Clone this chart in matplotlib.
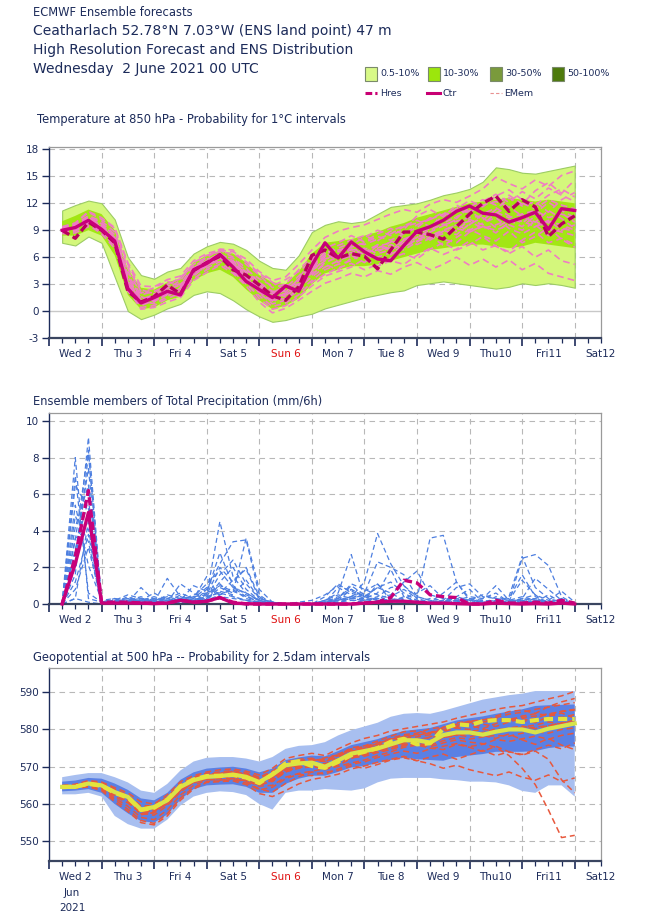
import numpy as np
import matplotlib
matplotlib.use("Agg")
import matplotlib.pyplot as plt
from matplotlib.patches import Rectangle
from matplotlib.lines import Line2D

plt.rcParams['font.family'] = ['DejaVu Sans']

# ---------------- data ----------------
hours = [6 + 6 * i for i in range(40)]  # forecast hours from Wed 2 00h
day_labels = ['Wed 2', 'Thu 3', 'Fri 4', 'Sat 5', 'Sun 6', 'Mon 7', 'Tue 8',
              'Wed 9', 'Thu10', 'Fri11', 'Sat12']
day_label_hours = [12 + 24 * i for i in range(11)]
day_grid_hours = [24 * i for i in range(1, 11)]

# Temperature 850 hPa
t_ctr = [9.0, 9.3, 10.1, 9.1, 7.8, 2.5, 0.9, 1.5, 2.2, 1.8, 4.6, 5.3, 6.3, 4.9, 3.3, 2.4, 1.5, 2.8, 2.2, 5.1,
         7.6, 5.9, 7.7, 6.6, 5.8, 5.6, 7.3, 8.9, 9.4, 10.1, 11.1, 11.7, 10.9, 10.7, 9.9, 10.4, 11.0, 9.1, 11.4, 11.2]
t_hres = [9.0, 8.1, 9.9, 9.0, 7.6, 2.2, 1.0, 1.6, 2.9, 1.9, 4.5, 5.4, 6.1, 4.6, 4.0, 2.9, 1.7, 1.2, 2.7, 6.2,
          6.8, 5.9, 6.4, 6.1, 4.7, 6.8, 8.8, 8.8, 8.5, 8.0, 9.4, 10.8, 12.0, 12.8, 11.1, 12.4, 11.6, 8.3, 9.7, 10.6]
t_out_hi = [11.2, 11.8, 12.3, 12.0, 10.2, 6.0, 4.0, 3.6, 4.4, 4.8, 6.4, 7.2, 7.7, 7.5, 6.8, 5.6, 4.8, 4.6, 6.2, 8.8,
            9.6, 10.0, 9.8, 10.0, 10.8, 11.6, 11.8, 12.0, 12.4, 12.9, 13.2, 13.6, 14.4, 16.0, 15.8, 15.4, 15.3, 15.6, 15.9, 16.2]
t_out_lo = [7.6, 7.3, 8.3, 7.6, 3.8, 0.0, -0.9, -0.4, 0.3, 0.8, 1.8, 2.2, 2.0, 1.2, 0.2, -0.6, -1.2, -1.0, -0.6, -0.3,
            0.3, 0.7, 1.1, 1.5, 1.8, 2.1, 2.3, 2.9, 3.1, 3.3, 3.1, 2.9, 2.7, 2.5, 2.7, 3.1, 2.9, 3.1, 2.9, 2.6]
t_mid_hi = [10.0, 10.6, 11.3, 10.8, 9.0, 4.6, 2.6, 2.4, 3.2, 3.6, 5.4, 6.2, 6.7, 6.4, 5.4, 4.0, 3.2, 3.0, 4.4, 6.4,
            7.6, 7.8, 8.0, 8.4, 8.8, 9.4, 9.8, 10.4, 10.8, 11.2, 11.6, 12.0, 12.2, 12.4, 12.6, 12.4, 12.2, 12.4, 12.2, 12.0]
t_mid_lo = [8.4, 8.4, 9.0, 8.4, 6.2, 1.8, 0.2, 0.4, 1.2, 1.6, 3.4, 4.2, 4.6, 3.8, 2.4, 1.2, 0.2, 0.6, 1.4, 3.0,
            4.2, 4.6, 5.0, 5.0, 5.2, 5.6, 6.0, 6.4, 6.8, 7.0, 7.2, 7.4, 7.4, 7.2, 7.0, 7.2, 7.6, 7.4, 7.2, 7.0]
t_members = [
    [9.2, 9.6, 10.5, 9.8, 8.5, 4.0, 1.8, 2.2, 2.8, 3.0, 5.0, 5.8, 6.0, 5.5, 4.6, 3.6, 2.8, 3.5, 4.4, 5.6, 6.8, 6.2, 6.5, 7.0, 6.4, 6.8, 7.6, 8.2, 8.8, 9.5, 10.2, 9.6, 10.8, 11.5, 10.6, 9.8, 10.9, 12.1, 11.2, 10.4],
    [8.8, 9.0, 9.6, 8.6, 7.0, 3.2, 1.2, 0.8, 1.6, 2.6, 4.0, 5.0, 5.7, 5.2, 3.8, 2.0, 0.8, 1.2, 2.6, 3.8, 4.9, 5.6, 6.2, 5.4, 6.6, 7.4, 6.8, 7.7, 8.6, 8.0, 7.6, 8.8, 9.5, 8.7, 9.9, 10.8, 9.6, 8.4, 9.2, 8.9],
    [9.4, 9.8, 11.0, 10.2, 9.2, 5.2, 2.4, 1.9, 2.5, 3.4, 5.4, 6.2, 6.6, 6.4, 5.5, 4.2, 3.2, 2.3, 3.4, 4.8, 6.1, 7.3, 7.9, 8.4, 7.8, 8.9, 9.5, 10.1, 9.4, 10.6, 11.4, 12.3, 11.6, 12.8, 13.5, 12.4, 11.8, 12.9, 13.6, 12.7],
    [8.6, 8.7, 9.4, 8.9, 7.4, 2.2, 0.6, 1.2, 1.9, 2.4, 4.3, 4.8, 5.5, 4.4, 3.0, 1.7, 0.5, 0.9, 1.8, 3.2, 4.1, 4.8, 5.3, 4.6, 5.2, 5.9, 6.4, 5.8, 6.9, 7.6, 6.8, 7.4, 8.3, 7.2, 6.6, 7.9, 8.8, 7.6, 8.1, 7.4],
    [9.0, 9.4, 10.3, 9.4, 8.0, 3.5, 1.4, 1.6, 2.8, 3.8, 4.9, 5.5, 6.1, 5.9, 4.8, 3.1, 2.1, 1.6, 2.9, 4.5, 5.6, 6.8, 7.1, 7.6, 8.3, 7.9, 8.6, 9.3, 10.4, 9.8, 10.5, 11.2, 10.1, 11.3, 12.6, 11.7, 12.2, 11.0, 12.4, 13.2],
    [9.1, 9.2, 10.0, 9.3, 7.6, 2.8, 1.0, 1.0, 2.3, 2.1, 3.9, 5.1, 6.5, 5.0, 3.5, 2.6, 1.9, 2.6, 3.9, 5.3, 6.4, 5.8, 7.2, 6.1, 7.3, 6.7, 7.9, 8.5, 7.9, 8.9, 9.6, 9.0, 9.8, 10.4, 9.2, 8.6, 9.4, 10.1, 9.0, 9.6],
    [8.9, 9.5, 10.2, 9.6, 8.2, 4.4, 2.0, 2.6, 3.3, 2.9, 4.7, 6.0, 6.8, 6.0, 4.2, 3.0, 1.3, 1.9, 3.1, 4.2, 5.2, 4.6, 5.9, 6.8, 5.6, 6.3, 7.1, 8.0, 8.4, 7.3, 8.2, 9.1, 8.4, 7.8, 8.9, 7.6, 8.3, 9.3, 8.0, 7.1],
    [9.3, 9.1, 9.9, 9.2, 7.9, 3.0, 1.1, 1.4, 2.0, 1.6, 4.2, 5.7, 6.2, 5.3, 4.1, 2.2, 1.1, 2.1, 3.6, 5.8, 7.0, 7.6, 8.4, 7.7, 8.6, 9.2, 8.5, 9.6, 10.2, 11.0, 10.3, 11.6, 12.4, 11.8, 12.9, 11.9, 13.4, 14.3, 13.1, 14.6],
    [8.7, 8.9, 9.8, 8.8, 7.2, 2.6, 0.4, 0.6, 1.4, 2.0, 3.6, 4.6, 5.2, 4.6, 3.2, 1.4, 0.2, 0.6, 1.6, 2.8, 3.9, 4.4, 4.9, 5.8, 5.0, 5.6, 5.2, 6.2, 7.0, 6.3, 6.9, 7.8, 6.8, 7.3, 6.4, 7.2, 6.0, 6.8, 5.6, 5.2],
    [9.2, 9.7, 10.6, 10.0, 8.8, 4.8, 2.2, 2.0, 3.0, 3.6, 5.2, 6.0, 6.9, 6.8, 5.2, 4.0, 2.6, 3.0, 4.6, 6.0, 7.2, 6.6, 7.4, 8.2, 9.0, 8.4, 9.1, 10.6, 11.3, 10.5, 11.8, 11.0, 12.2, 13.0, 12.1, 13.3, 12.5, 13.7, 12.9, 12.2],
    [8.9, 9.3, 10.0, 9.5, 7.7, 3.0, 0.8, 1.7, 2.4, 2.3, 4.5, 5.2, 5.8, 5.6, 3.9, 2.8, 2.0, 2.9, 3.0, 4.0, 5.4, 6.0, 6.9, 6.3, 7.0, 7.7, 8.3, 7.4, 8.1, 9.0, 8.5, 9.7, 10.4, 9.3, 10.1, 9.4, 10.6, 9.8, 10.9, 9.9],
    [9.0, 9.1, 10.4, 9.7, 8.4, 3.8, 1.6, 1.1, 1.8, 2.7, 4.1, 5.6, 6.4, 5.2, 3.7, 2.5, 1.2, 1.4, 2.2, 3.4, 4.6, 5.2, 5.6, 6.5, 7.4, 6.9, 7.4, 8.2, 9.0, 9.7, 8.9, 10.2, 9.6, 10.9, 11.6, 10.6, 9.9, 11.2, 10.3, 9.2],
    [8.8, 9.0, 9.7, 9.0, 7.3, 2.4, 0.2, 0.4, 1.0, 1.5, 3.4, 4.3, 5.1, 4.2, 2.8, 1.0, -0.2, 0.3, 1.2, 2.2, 3.1, 3.6, 4.2, 3.8, 4.5, 4.1, 4.9, 5.4, 4.6, 5.2, 6.0, 5.1, 5.8, 4.9, 5.7, 4.6, 5.3, 4.2, 3.8, 3.4],
    [9.3, 9.8, 11.1, 10.4, 9.3, 5.4, 2.8, 2.7, 3.5, 3.9, 5.6, 6.4, 6.8, 6.6, 5.8, 4.4, 3.4, 3.8, 5.2, 6.8, 8.2, 8.9, 9.3, 9.6, 10.2, 10.8, 11.3, 11.0, 11.9, 12.4, 12.1, 12.8, 13.6, 14.9, 14.2, 13.6, 14.6, 13.9, 15.1, 15.6],
    [9.0, 9.2, 10.2, 9.2, 7.9, 2.9, 1.0, 1.3, 2.1, 2.0, 4.4, 5.2, 6.1, 5.0, 3.6, 2.3, 1.4, 2.0, 2.8, 4.6, 6.0, 6.4, 6.8, 6.9, 7.2, 7.6, 8.0, 8.6, 9.2, 9.6, 10.0, 10.4, 10.6, 11.0, 10.4, 10.8, 11.2, 10.4, 10.8, 10.2],
    [9.1, 9.4, 10.0, 9.0, 7.5, 2.7, 0.8, 1.1, 1.9, 2.4, 4.8, 5.6, 6.4, 5.6, 4.0, 2.7, 1.6, 2.4, 3.3, 4.4, 5.8, 6.2, 6.0, 6.6, 6.8, 7.0, 7.8, 8.8, 8.4, 9.0, 9.6, 10.0, 9.2, 9.6, 10.2, 10.0, 9.4, 10.0, 9.6, 9.0],
    [8.9, 9.2, 9.8, 9.4, 8.1, 3.3, 1.3, 1.8, 2.6, 2.2, 4.6, 5.4, 6.0, 5.2, 4.4, 3.2, 2.2, 2.2, 3.6, 5.0, 6.2, 7.0, 7.6, 7.4, 8.0, 8.6, 9.4, 9.8, 10.2, 10.8, 11.2, 11.0, 11.8, 12.2, 11.6, 12.0, 11.4, 12.4, 11.8, 11.4],
    [9.2, 9.5, 10.4, 9.5, 8.0, 3.6, 1.5, 1.3, 2.4, 2.9, 4.4, 5.0, 5.9, 5.4, 3.4, 2.1, 1.0, 1.8, 2.5, 4.9, 6.6, 5.4, 6.4, 6.2, 6.0, 6.5, 7.2, 7.8, 8.2, 8.6, 9.2, 8.8, 9.4, 9.0, 9.6, 9.0, 10.0, 9.2, 8.8, 8.4],
]

# Total precipitation (mm/6h)
p_ctr = [0, 2.2, 5.0, 0.05, 0.05, 0.05, 0.05, 0.02, 0.05, 0.2, 0.1, 0.15, 0.35, 0.05, 0.02, 0.0, 0.0, 0.0, 0.0, 0.0,
         0.0, 0.0, 0.0, 0.05, 0.1, 0.15, 0.15, 0.1, 0.05, 0.05, 0.02, 0.0, 0.0, 0.05, 0.02, 0.0, 0.02, 0.0, 0.05, 0.0]
p_hres = [0, 2.6, 6.2, 0.1, 0.1, 0.1, 0.05, 0.05, 0.05, 0.2, 0.1, 0.15, 0.35, 0.1, 0.0, 0.0, 0.0, 0.0, 0.0, 0.0,
          0.0, 0.0, 0.0, 0.05, 0.1, 0.35, 1.3, 1.15, 0.5, 0.4, 0.35, 0.0, 0.0, 0.2, 0.05, 0.05, 0.1, 0.05, 0.2, 0.05]
p_members = [
    [0, 3.5, 8.4, 0.1, 0.1, 0.2, 0.3, 0.1, 0, 0.1, 0.2, 0.3, 1.2, 2.0, 0.8, 0.2, 0, 0, 0, 0, 0.1, 0.3, 0.8, 0.4, 0.2, 0.1, 0, 0, 0, 0.1, 0.2, 0, 0, 0, 0.1, 0.3, 0.2, 0.1, 0, 0],
    [0, 8.0, 0.3, 0.1, 0.2, 0.5, 0.3, 0.1, 1.4, 0.4, 0.2, 0.5, 4.5, 1.5, 0.6, 0.2, 0, 0, 0, 0, 0.2, 0.6, 2.7, 0.3, 0.1, 0, 0, 0, 0, 0, 0.1, 0.2, 0.5, 0.3, 0, 0, 0.1, 0, 0, 0],
    [0, 2.0, 9.1, 0.1, 0.1, 0, 0.2, 0.6, 0.2, 0.3, 0.1, 0.8, 2.2, 3.4, 3.5, 0.5, 0, 0, 0, 0, 0.1, 0.2, 0.4, 1.2, 3.85, 2.2, 1.0, 0.3, 0.1, 0, 0, 0, 0, 0.2, 0, 0, 0, 0, 0, 0],
    [0, 4.2, 6.5, 0.1, 0, 0.1, 0.9, 0.2, 0.1, 1.1, 0.6, 0.2, 0.9, 0.6, 3.6, 0.8, 0.1, 0, 0, 0, 0, 0.1, 0.3, 0.5, 0.2, 0.4, 0.8, 0.3, 3.6, 3.75, 1.2, 0.2, 0.1, 0, 0.1, 0.2, 0.3, 0.1, 0, 0],
    [0, 1.2, 3.8, 0.05, 0.1, 0.3, 0.1, 0, 0.3, 0.2, 0.4, 1.1, 1.8, 0.9, 0.4, 0.1, 0, 0, 0, 0, 0.4, 1.1, 0.6, 0.3, 0.6, 1.9, 0.4, 0.1, 0, 0, 0.2, 0.4, 0.3, 0.6, 0.1, 2.5, 2.7, 2.1, 0.4, 0],
    [0, 6.5, 5.2, 0.1, 0.3, 0.1, 0.1, 0.3, 0.1, 0.2, 1.0, 0.7, 0.6, 1.3, 1.9, 0.3, 0.1, 0, 0, 0, 0, 0.2, 0.4, 0.7, 1.1, 0.2, 0.1, 0, 0.1, 0.6, 1.2, 0.3, 0.1, 0, 0, 0.3, 1.4, 0.8, 0.2, 0],
    [0, 0.3, 4.5, 0.1, 0.1, 0.4, 0.1, 0.1, 0.1, 0.5, 0.1, 0.6, 1.0, 0.7, 0.4, 0.2, 0, 0, 0, 0, 0.1, 0.9, 0.5, 0.2, 0.4, 0.9, 1.0, 0.4, 0.2, 0.1, 0, 0.1, 0.3, 1.0, 0.2, 0.1, 0, 0.2, 0.7, 0.1],
    [0, 5.4, 2.1, 0.2, 0.3, 0.2, 0.4, 0.1, 0.5, 0.3, 0.2, 0.4, 1.6, 2.4, 1.1, 0.3, 0.1, 0, 0, 0, 0.2, 0.5, 0.3, 0.6, 2.3, 2.0, 1.6, 0.4, 0.2, 0.1, 0.4, 0.2, 0, 0.1, 0, 0.1, 0.3, 0, 0, 0],
    [0, 2.8, 7.4, 0, 0.1, 0.2, 0.2, 0.4, 0.2, 0.1, 0.3, 0.9, 0.5, 0.8, 0.3, 0.1, 0, 0, 0, 0, 0, 0.3, 1.1, 0.8, 0.5, 0.3, 0.1, 0, 0, 0.2, 0.1, 0, 0, 0.4, 0.2, 1.3, 0.5, 0.2, 0, 0],
    [0, 7.0, 0.6, 0.1, 0.2, 0.1, 0.3, 0.1, 0.1, 0.2, 0.5, 0.6, 2.8, 1.0, 0.5, 0.2, 0, 0, 0.1, 0.2, 0.5, 1.0, 0.7, 0.4, 0.9, 1.2, 0.6, 0.2, 0, 0, 0.1, 0.3, 0.2, 0.1, 0.4, 2.6, 0.9, 0.3, 0.1, 0],
    [0, 0.8, 3.1, 0.1, 0.1, 0.1, 0.2, 0.2, 0.3, 0.6, 0.3, 1.5, 0.4, 0.3, 0.2, 0.1, 0, 0, 0, 0, 0.1, 0.4, 0.2, 0.2, 1.1, 0.3, 0.2, 0.1, 0.3, 0.2, 0.9, 1.1, 0.4, 0.3, 0.2, 0.2, 0.1, 0.5, 0.1, 0],
    [0, 3.0, 5.7, 0.1, 0, 0.1, 0.1, 0.3, 0.2, 0.1, 0.1, 0.3, 0.7, 0.5, 1.3, 0.3, 0.1, 0, 0, 0, 0, 0.1, 0.3, 0.2, 0.3, 0.5, 1.2, 1.8, 0.5, 0.3, 0.2, 0, 0, 0, 0.2, 0.4, 0.2, 0.1, 0, 0],
    [0, 4.8, 3.4, 0, 0.2, 0.3, 0.2, 0.2, 0.4, 0.2, 0.3, 0.2, 1.1, 0.4, 0.2, 0, 0, 0, 0, 0, 0.2, 0.3, 1.0, 0.5, 0.3, 0.2, 0.3, 0.6, 1.0, 0.3, 0.2, 0, 0, 0, 0, 0.3, 0.5, 0, 0, 0],
    [0, 1.6, 8.2, 0.1, 0.1, 0, 0.3, 0.1, 0, 0.3, 0.4, 0.5, 2.0, 1.2, 2.0, 0.4, 0, 0, 0, 0, 0.1, 0.2, 0.8, 0.4, 0.9, 0.6, 0.2, 0, 0.1, 0.2, 0.4, 0.8, 0.1, 0.2, 0.3, 1.6, 0.4, 0.1, 0.2, 0],
    [0, 0.3, 0.1, 0, 0.1, 0.1, 0, 0.1, 0.2, 0.1, 0.2, 0.4, 0.6, 0.4, 0.2, 0.1, 0, 0, 0, 0, 0, 0.1, 0.2, 0.1, 0.3, 0.2, 0.1, 0, 0, 0, 0, 0, 0.2, 0.1, 0, 0, 0.1, 0, 0, 0],
    [0, 3.6, 4.1, 0.1, 0.2, 0.1, 0.1, 0.1, 0.2, 0.2, 0.1, 0.2, 0.5, 0.9, 0.6, 0.2, 0, 0, 0, 0, 0.1, 0.2, 0.3, 0.3, 0.2, 0.1, 0.4, 0.2, 0.1, 0.1, 0.3, 0.2, 0.1, 0, 0, 0.1, 0.2, 0.1, 0.3, 0],
]

# Geopotential 500 hPa (dam)
z_ctr = [564.6, 564.6, 565.5, 565.0, 563.2, 561.9, 558.5, 559.2, 561.0, 564.6, 566.4, 567.3, 567.5, 567.9, 567.3, 565.9,
         567.9, 570.4, 570.9, 571.1, 570.0, 571.7, 573.5, 574.2, 574.9, 576.0, 577.1, 577.1, 576.5, 578.5, 579.2, 579.2,
         578.6, 579.4, 580.0, 580.0, 579.2, 580.2, 580.9, 581.6]
z_hres = [564.5, 564.7, 565.4, 564.9, 563.0, 561.7, 558.4, 559.0, 561.2, 564.8, 566.6, 567.5, 567.6, 567.8, 567.1, 565.6,
          568.0, 570.9, 571.5, 570.2, 569.7, 571.3, 573.1, 574.0, 575.0, 576.7, 577.5, 576.0, 576.3, 580.2, 581.4, 581.1,
          582.2, 582.5, 582.5, 582.0, 582.5, 582.8, 582.8, 582.8]
z_out_hi = [567.2, 567.8, 568.3, 568.3, 567.2, 565.8, 563.6, 563.0, 565.4, 569.0, 571.4, 572.4, 572.6, 572.6, 572.2, 571.4,
            572.6, 574.8, 575.6, 575.8, 576.6, 578.4, 579.8, 580.8, 581.8, 583.4, 584.2, 584.4, 584.2, 585.0, 586.0, 587.0,
            588.0, 588.6, 589.2, 589.6, 590.3, 590.3, 590.3, 590.3]
z_out_lo = [562.6, 562.6, 563.0, 562.0, 556.8, 554.6, 553.4, 553.4, 555.8, 559.6, 562.0, 563.0, 563.4, 563.2, 562.4, 560.0,
            558.5, 563.0, 563.6, 563.6, 564.0, 563.8, 563.6, 564.2, 565.8, 566.8, 567.0, 567.0, 567.0, 566.6, 566.4, 566.0,
            566.0, 565.8, 565.0, 563.5, 563.0, 565.0, 565.0, 562.0]
z_in_hi = [566.0, 566.3, 567.0, 566.8, 565.5, 563.8, 561.5, 561.0, 563.0, 566.5, 568.5, 569.5, 569.8, 570.0, 569.5, 568.5,
           569.5, 571.8, 572.5, 573.0, 572.8, 574.2, 575.8, 576.6, 577.4, 578.6, 579.6, 580.0, 580.4, 581.4, 582.4, 583.0,
           583.5, 584.2, 584.8, 585.4, 586.3, 586.5, 586.6, 586.7]
z_in_lo = [563.4, 563.6, 564.0, 563.0, 560.0, 557.5, 555.4, 555.0, 557.2, 561.2, 564.0, 565.0, 565.2, 565.3, 564.6, 563.0,
           563.0, 565.4, 566.8, 567.6, 567.6, 568.6, 569.8, 570.2, 571.0, 571.8, 572.4, 572.0, 571.8, 571.6, 572.6, 573.0,
           573.4, 574.0, 574.0, 574.0, 574.2, 575.0, 575.4, 575.4]
z_members = [
    [564.3, 564.9, 565.8, 564.6, 562.0, 560.3, 557.6, 557.0, 559.6, 563.2, 565.8, 567.0, 567.8, 568.2, 567.6, 566.2, 567.0, 569.1, 570.6, 571.5, 572.4, 573.2, 574.1, 575.0, 576.2, 577.4, 578.1, 578.4, 579.2, 580.3, 581.0, 581.8, 582.5, 583.2, 584.1, 584.6, 585.4, 586.0, 586.6, 587.2],
    [564.8, 564.5, 565.2, 564.2, 561.6, 559.4, 556.4, 555.8, 558.4, 562.4, 565.0, 566.5, 566.8, 566.9, 566.0, 564.0, 563.2, 565.5, 567.3, 568.6, 568.0, 569.4, 570.7, 571.3, 572.5, 573.4, 574.2, 573.6, 574.8, 575.5, 576.2, 575.4, 576.0, 577.3, 576.8, 577.5, 578.2, 577.4, 578.4, 579.0],
    [565.0, 565.2, 566.0, 565.6, 564.0, 562.4, 559.5, 559.6, 561.8, 565.5, 567.2, 568.3, 568.6, 569.0, 568.4, 567.2, 568.8, 571.3, 572.0, 572.3, 571.3, 573.0, 575.1, 575.6, 576.9, 578.2, 579.4, 579.6, 578.9, 580.6, 581.8, 582.2, 582.0, 583.6, 584.8, 585.2, 584.3, 586.1, 587.4, 588.3],
    [564.4, 564.6, 565.1, 564.8, 563.4, 561.0, 557.1, 557.8, 560.2, 563.8, 566.0, 566.6, 566.4, 566.8, 566.2, 564.8, 565.0, 567.2, 568.2, 568.8, 569.5, 570.1, 571.0, 571.8, 573.0, 574.0, 575.2, 575.8, 575.0, 574.6, 576.0, 575.2, 574.1, 575.5, 574.0, 573.1, 574.2, 572.0, 566.5, 563.0],
    [564.6, 565.0, 565.9, 565.2, 562.8, 561.4, 558.8, 558.4, 560.8, 564.2, 566.6, 567.8, 568.4, 568.0, 567.0, 565.4, 566.8, 569.8, 571.2, 571.0, 570.8, 572.2, 573.0, 574.5, 575.5, 576.3, 577.8, 576.9, 578.0, 579.4, 580.4, 580.0, 581.4, 580.8, 582.0, 583.0, 581.8, 583.5, 584.4, 583.0],
    [564.2, 564.3, 564.8, 563.9, 561.2, 558.6, 555.6, 554.8, 557.4, 561.6, 564.4, 566.0, 566.2, 566.6, 565.6, 563.8, 564.5, 566.8, 568.0, 567.6, 568.6, 569.0, 570.2, 569.6, 570.6, 571.8, 572.4, 571.6, 572.6, 573.4, 572.0, 573.2, 574.4, 573.0, 574.0, 573.3, 574.6, 575.8, 574.8, 576.4],
    [564.9, 565.3, 566.3, 565.9, 564.4, 563.0, 560.6, 560.0, 562.5, 566.0, 567.6, 568.6, 569.2, 569.4, 568.8, 567.8, 569.6, 572.2, 573.0, 573.6, 573.0, 574.8, 576.4, 577.6, 578.4, 579.6, 580.2, 580.8, 581.4, 582.0, 583.0, 583.8, 584.6, 585.4, 586.0, 586.4, 587.3, 588.2, 589.0, 590.2],
    [564.5, 564.7, 565.4, 564.9, 562.9, 561.7, 558.2, 558.9, 560.6, 564.8, 566.7, 567.6, 567.9, 568.5, 567.8, 566.6, 566.0, 568.6, 570.2, 570.4, 569.2, 570.4, 572.2, 573.6, 574.2, 575.4, 576.4, 577.2, 576.2, 577.8, 578.4, 579.6, 578.4, 577.6, 578.8, 577.2, 576.0, 577.6, 575.8, 574.6],
    [564.7, 564.8, 565.6, 565.1, 563.6, 562.2, 559.2, 559.6, 561.6, 565.2, 566.9, 567.9, 568.0, 568.6, 568.1, 567.0, 568.4, 570.8, 571.6, 572.1, 571.9, 573.4, 574.8, 575.4, 576.4, 577.6, 578.6, 579.0, 580.2, 580.6, 581.4, 582.2, 582.6, 583.0, 582.4, 583.6, 584.2, 583.8, 584.9, 585.4],
    [564.4, 564.4, 565.0, 564.4, 562.4, 560.8, 557.9, 558.2, 560.0, 563.6, 565.6, 566.9, 567.1, 567.4, 566.4, 565.0, 566.2, 568.8, 569.8, 570.2, 569.4, 570.9, 572.4, 572.8, 573.8, 574.6, 575.8, 576.0, 575.4, 576.4, 577.2, 576.6, 576.2, 575.2, 573.0, 569.6, 565.2, 558.4, 551.0, 551.6],
    [564.6, 564.9, 565.7, 565.4, 563.8, 561.6, 558.0, 558.6, 561.2, 564.4, 566.2, 567.4, 567.2, 567.6, 566.9, 565.8, 567.4, 569.4, 570.0, 570.6, 570.4, 571.2, 572.8, 573.2, 574.6, 575.2, 576.0, 576.4, 577.2, 578.0, 578.6, 578.0, 579.0, 580.2, 579.8, 580.6, 581.2, 582.0, 581.4, 582.6],
    [564.8, 565.1, 566.1, 565.3, 563.0, 561.2, 557.4, 557.6, 560.4, 564.0, 566.4, 567.6, 568.2, 568.8, 568.0, 566.4, 567.6, 570.0, 571.0, 571.8, 571.4, 572.6, 574.4, 574.8, 575.8, 577.0, 577.6, 578.0, 578.6, 579.6, 580.6, 581.0, 580.2, 581.6, 582.8, 582.0, 583.0, 584.2, 583.2, 584.0],
    [564.3, 564.2, 564.6, 563.6, 560.6, 558.0, 555.0, 554.4, 556.8, 561.0, 564.0, 565.8, 566.0, 566.2, 565.2, 562.8, 562.0, 563.6, 565.4, 566.6, 567.2, 568.0, 569.4, 570.2, 571.2, 572.0, 572.8, 571.6, 570.8, 569.6, 570.4, 569.2, 568.4, 567.6, 568.6, 567.2, 566.4, 567.8, 566.0, 567.0],
    [564.7, 564.6, 565.3, 564.7, 563.1, 561.8, 558.6, 559.0, 561.4, 564.6, 566.3, 567.0, 567.6, 567.8, 567.1, 566.0, 567.2, 569.6, 570.6, 570.8, 570.2, 571.6, 573.2, 573.8, 575.0, 575.8, 576.8, 577.4, 577.8, 578.4, 578.8, 579.4, 580.0, 579.6, 580.4, 580.9, 580.2, 581.0, 581.8, 582.0],
    [564.5, 564.8, 565.6, 565.0, 563.0, 561.2, 558.0, 558.4, 560.8, 564.4, 566.2, 567.2, 567.4, 567.7, 567.0, 565.5, 566.6, 569.2, 570.4, 570.6, 570.2, 571.4, 572.9, 573.6, 574.4, 575.4, 576.4, 576.6, 577.0, 577.9, 578.6, 578.8, 579.2, 579.6, 579.9, 580.2, 580.6, 581.0, 581.4, 581.8],
    [564.6, 564.7, 565.3, 564.6, 562.6, 560.6, 557.4, 558.0, 560.4, 564.0, 566.0, 567.1, 567.3, 567.5, 566.8, 565.2, 566.4, 568.6, 569.6, 570.0, 569.6, 570.8, 572.4, 573.2, 574.0, 574.8, 575.6, 576.2, 575.8, 577.0, 577.8, 577.4, 578.0, 578.4, 578.2, 579.0, 579.4, 579.0, 580.0, 580.4],
    [564.8, 565.0, 565.8, 565.4, 563.6, 562.0, 559.0, 559.4, 561.8, 565.0, 566.8, 567.8, 568.2, 568.4, 567.8, 566.8, 568.2, 570.6, 571.4, 571.8, 571.6, 573.0, 574.6, 575.2, 576.0, 577.2, 578.2, 578.6, 579.0, 580.0, 580.8, 581.4, 582.0, 582.4, 582.8, 583.2, 583.6, 584.2, 584.8, 585.2],
]

# ---------------- styling ----------------
NAVY = '#1c2b5a'
GRID = '#b8b8b8'
W, H = 650, 916

fig = plt.figure(figsize=(6.5, 9.16), dpi=100)


def fx(px):
    return px / W


def fy(py):
    return 1 - py / H


def make_axes(top, bottom):
    return fig.add_axes([fx(49), fy(bottom), fx(601 - 49), (bottom - top) / H])


def style_axes(ax, yticks, ylim, label_y_px, zero_line=None):
    ax.set_xlim(0, 252)
    ax.set_ylim(*ylim)
    ax.set_yticks(yticks)
    ax.set_yticklabels([str(v) for v in yticks])
    ax.tick_params(axis='y', direction='out', length=5, width=1, color=NAVY,
                   labelsize=7.5, labelcolor=NAVY, pad=2)
    ax.set_xticks([24 * i for i in range(0, 11)])
    ax.set_xticks([6 * i for i in range(0, 43)], minor=True)
    ax.set_xticklabels([])
    ax.tick_params(axis='x', which='major', direction='out', length=6, width=1.2, color=NAVY)
    ax.tick_params(axis='x', which='minor', direction='out', length=3.5, width=0.9, color=NAVY)
    for y in yticks:
        if y == ylim[0]:
            continue
        if zero_line is not None and y == zero_line:
            ax.axhline(y, color='#c8c8c8', lw=1.0, zorder=0.5)
        else:
            ax.axhline(y, color=GRID, lw=0.8, ls=(0, (5, 4)), zorder=0.5)
    for xg in day_grid_hours:
        ax.axvline(xg, color=GRID, lw=0.8, ls=(0, (5, 4)), zorder=0.5)
    for side in ['top', 'right']:
        ax.spines[side].set_color('#9a9a9a')
        ax.spines[side].set_linewidth(0.9)
    ax.spines['left'].set_color(NAVY)
    ax.spines['left'].set_linewidth(1.0)
    ax.spines['bottom'].set_color('#3a4560')
    ax.spines['bottom'].set_linewidth(1.6)
    for xl, lab in zip(day_label_hours, day_labels):
        fig.text(fx(49 + xl / 252 * 552), fy(label_y_px), lab, ha='center', va='center',
                 fontsize=7.5, color=('#e01010' if lab.startswith('Sun') else NAVY))


# ---------------- header ----------------
fig.text(fx(33), fy(12), 'ECMWF Ensemble forecasts', fontsize=8.3, color=NAVY, va='center')
fig.text(fx(33), fy(31), 'Ceatharlach 52.78°N 7.03°W (ENS land point) 47 m', fontsize=10.0, color=NAVY, va='center')
fig.text(fx(33), fy(50), 'High Resolution Forecast and ENS Distribution', fontsize=10.0, color=NAVY, va='center')
fig.text(fx(33), fy(69), 'Wednesday  2 June 2021 00 UTC', fontsize=10.0, color=NAVY, va='center')

leg_boxes = [('0.5-10%', '#d8f987', 365), ('10-30%', '#9ce60c', 428), ('30-50%', '#7a9a3c', 490), ('50-100%', '#4d7a0c', 552)]
for lab, col, x0 in leg_boxes:
    fig.patches.append(Rectangle((fx(x0), fy(81)), fx(12), 14 / H, transform=fig.transFigure,
                                 facecolor=col, edgecolor='#7a8a6a', lw=0.8))
    fig.text(fx(x0 + 15), fy(74), lab, fontsize=6.8, color=NAVY, va='center')
fig.lines.append(Line2D([fx(365), fx(377)], [fy(93), fy(93)], transform=fig.transFigure,
                        color='#c80073', lw=2.2, ls=(0, (2.2, 1.0))))
fig.text(fx(380), fy(93), 'Hres', fontsize=6.8, color=NAVY, va='center')
fig.lines.append(Line2D([fx(427), fx(440)], [fy(93), fy(93)], transform=fig.transFigure,
                        color='#c80073', lw=2.2))
fig.text(fx(442), fy(93), 'Ctr', fontsize=6.8, color=NAVY, va='center')
fig.lines.append(Line2D([fx(490), fx(502)], [fy(93), fy(93)], transform=fig.transFigure,
                        color='#e89090', lw=0.8, ls=(0, (3, 2))))
fig.text(fx(504), fy(93), 'EMem', fontsize=6.8, color=NAVY, va='center')

# ---------------- panel 1: temperature ----------------
fig.text(fx(37), fy(119), 'Temperature at 850 hPa - Probability for 1°C intervals', fontsize=8.3, color=NAVY, va='center')
ax1 = make_axes(146.7, 338)
style_axes(ax1, [-3, 0, 3, 6, 9, 12, 15, 18], (-3, 18.3), 354, zero_line=0)
ax1.fill_between(hours, t_out_lo, t_out_hi, facecolor='#d4f77c', edgecolor='#9ccc64', lw=0.8, zorder=1)
ax1.fill_between(hours, t_mid_lo, t_mid_hi, facecolor='#a2e614', edgecolor='none', zorder=1.2)
for m in t_members:
    ax1.plot(hours, m, color='#f07cc4', lw=1.2, ls=(0, (4, 2.5)), zorder=2)
ax1.plot(hours, t_hres, color='#b8005f', lw=2.4, ls=(0, (2.5, 1.2)), zorder=4)
ax1.plot(hours, t_ctr, color='#c8007a', lw=2.4, zorder=4)

# ---------------- panel 2: precipitation ----------------
fig.text(fx(33), fy(401), 'Ensemble members of Total Precipitation (mm/6h)', fontsize=8.3, color=NAVY, va='center')
ax2 = make_axes(412.7, 604)
style_axes(ax2, [0, 2, 4, 6, 8, 10], (0, 10.45), 620)
for m in p_members:
    ax2.plot(hours, m, color='#4d7fe0', lw=0.9, ls=(0, (4, 2.5)), zorder=2, clip_on=False)
ax2.plot(hours, p_hres, color='#c8007a', lw=2.4, ls=(0, (2.5, 1.2)), zorder=4, clip_on=False)
ax2.plot(hours, p_ctr, color='#c8007a', lw=2.4, zorder=4, clip_on=False)

# ---------------- panel 3: geopotential ----------------
fig.text(fx(33), fy(658), 'Geopotential at 500 hPa -- Probability for 2.5dam intervals', fontsize=8.3, color=NAVY, va='center')
ax3 = make_axes(668.3, 860.7)
style_axes(ax3, [550, 560, 570, 580, 590], (544.8, 596.4), 877)
ax3.fill_between(hours, z_out_lo, z_out_hi, facecolor='#a8bff0', edgecolor='none', zorder=1)
ax3.fill_between(hours, z_in_lo, z_in_hi, facecolor='#5a80e4', edgecolor='none', zorder=1.2)
for m in z_members:
    ax3.plot(hours, m, color='#e8583c', lw=1.1, ls=(0, (4, 2.5)), zorder=2)
ax3.plot(hours, z_ctr, color='#d8e44a', lw=3.0, zorder=4)
ax3.plot(hours, z_hres, color='#e4e43c', lw=3.0, ls=(0, (2.2, 1.2)), zorder=4)
fig.text(fx(72), fy(893), 'Jun', fontsize=7.5, color=NAVY, ha='center', va='center')
fig.text(fx(72), fy(908), '2021', fontsize=7.5, color=NAVY, ha='center', va='center')

fig.savefig('out.png', dpi=100)
